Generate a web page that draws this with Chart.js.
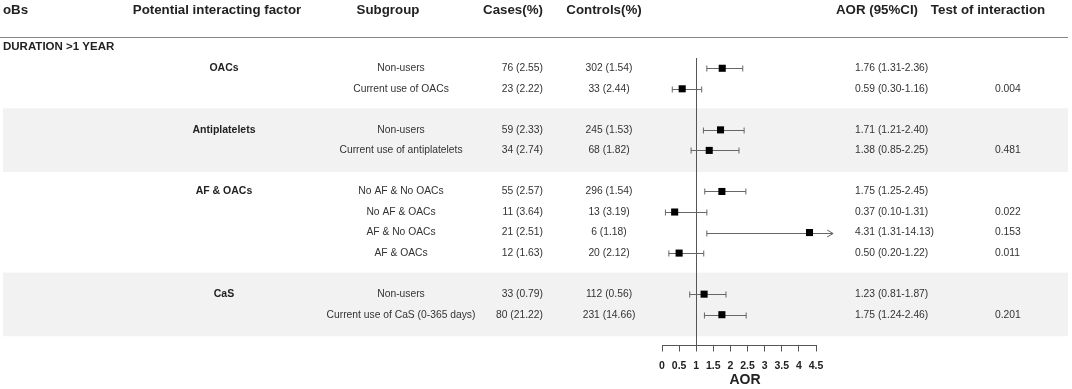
<!DOCTYPE html>
<html>
<head>
<meta charset="utf-8">
<script src="https://cdn.jsdelivr.net/npm/chart.js@4"></script>
<style>
  html, body { margin: 0; padding: 0; background: #fff; }
  canvas { display: block; }
</style>
</head>
<body>
<canvas id="forest" width="1072" height="389"></canvas>
<script>
// Datos de la tabla
const encabezados = ['oBs', 'Potential interacting factor', 'Subgroup', 'Cases(%)', 'Controls(%)', 'AOR (95%CI)', 'Test of interaction'];
const seccion = 'DURATION >1 YEAR';
const grupos = ['OACs', 'Antiplatelets', 'AF & OACs', 'CaS'];
const tamGrupo = [2, 2, 4, 2];
const subgrupos = ['Non-users', 'Current use of OACs', 'Non-users', 'Current use of antiplatelets',
  'No AF & No OACs', 'No AF & OACs', 'AF & No OACs', 'AF & OACs',
  'Non-users', 'Current use of CaS (0-365 days)'];
const casosN = [76, 23, 59, 34, 55, 11, 21, 12, 33, 80];
const casosPct = [2.55, 2.22, 2.33, 2.74, 2.57, 3.64, 2.51, 1.63, 0.79, 21.22];
const controlesN = [302, 33, 245, 68, 296, 13, 6, 20, 112, 231];
const controlesPct = [1.54, 2.44, 1.53, 1.82, 1.54, 3.19, 1.18, 2.12, 0.56, 14.66];
const aor = [1.76, 0.59, 1.71, 1.38, 1.75, 0.37, 4.31, 0.50, 1.23, 1.75];
const inferior = [1.31, 0.30, 1.21, 0.85, 1.25, 0.10, 1.31, 0.20, 0.81, 1.24];
const superior = [2.36, 1.16, 2.40, 2.25, 2.45, 1.31, 14.13, 1.22, 1.87, 2.46];
const interaccion = ['', '0.004', '', '0.481', '', '0.022', '0.153', '0.011', '', '0.201'];
const ticksAOR = [0, 0.5, 1, 1.5, 2, 2.5, 3, 3.5, 4, 4.5];
const tituloX = 'AOR';
const limiteX = 5; // los IC más largos se cortan con una flecha

// posición de cada fila (una fila vacía entre grupos)
const filas = [];
let pos = 0;
tamGrupo.forEach(n => {
  for (let k = 0; k < n; k++) filas.push(pos++);
  pos++;
});

const fuente = '"Liberation Sans", Arial, sans-serif';
const colorTexto = '#333';

const tabla = {
  id: 'tabla',
  beforeDraw(chart) {
    const { ctx, scales: { y } } = chart;
    ctx.save();
    // bandas grises de grupos alternos
    ctx.fillStyle = '#f2f2f2';
    let inicio = 0;
    tamGrupo.forEach((n, g) => {
      if (g % 2 === 1) {
        const top = y.getPixelForValue(filas[inicio] - 1.05);
        const bot = y.getPixelForValue(filas[inicio + n - 1] + 1.05);
        ctx.fillRect(3, top, 1065, bot - top);
      }
      inicio += n;
    });

    // encabezados
    ctx.fillStyle = '#222';
    ctx.textBaseline = 'middle';
    ctx.font = 'bold 13.3px ' + fuente;
    const colX = [3, 217, 388, 513, 604, 877, 988];
    encabezados.forEach((t, i) => {
      ctx.textAlign = i === 0 ? 'left' : 'center';
      ctx.fillText(t, colX[i], 10);
    });
    ctx.strokeStyle = '#888';
    ctx.lineWidth = 1;
    ctx.beginPath();
    ctx.moveTo(0, 37.5);
    ctx.lineTo(1068, 37.5);
    ctx.stroke();

    ctx.font = 'bold 11.5px ' + fuente;
    ctx.textAlign = 'left';
    ctx.fillText(seccion, 3, 47);

    // filas
    inicio = 0;
    tamGrupo.forEach((n, g) => {
      ctx.font = 'bold 10.5px ' + fuente;
      ctx.textAlign = 'center';
      ctx.fillStyle = '#222';
      ctx.fillText(grupos[g], 224, y.getPixelForValue(filas[inicio]));
      inicio += n;
    });
    ctx.font = '10.3px ' + fuente;
    ctx.fillStyle = colorTexto;
    filas.forEach((f, i) => {
      const py = y.getPixelForValue(f);
      ctx.textAlign = 'center';
      ctx.fillText(subgrupos[i], 401, py);
      ctx.textAlign = 'right';
      ctx.fillText(casosN[i] + ' (' + casosPct[i].toFixed(2) + ')', 543, py);
      ctx.textAlign = 'center';
      ctx.fillText(controlesN[i] + ' (' + controlesPct[i].toFixed(2) + ')', 609, py);
      ctx.textAlign = 'left';
      ctx.fillText(aor[i].toFixed(2) + ' (' + inferior[i].toFixed(2) + '-' + superior[i].toFixed(2) + ')', 855, py);
      ctx.fillText(interaccion[i], 995, py);
    });
    ctx.restore();
  },
  beforeDatasetsDraw(chart) {
    const { ctx, chartArea, scales: { x, y } } = chart;
    ctx.save();
    // línea de referencia en AOR = 1
    const x1px = Math.round(x.getPixelForValue(1)) + 0.5;
    ctx.strokeStyle = '#555';
    ctx.lineWidth = 1;
    ctx.beginPath();
    ctx.moveTo(x1px, chartArea.top);
    ctx.lineTo(x1px, chartArea.bottom);
    ctx.stroke();

    // intervalos de confianza
    ctx.strokeStyle = '#666';
    filas.forEach((f, i) => {
      const py = Math.round(y.getPixelForValue(f)) + 0.5;
      const a = x.getPixelForValue(inferior[i]);
      const cortado = superior[i] > limiteX;
      const b = x.getPixelForValue(Math.min(superior[i], limiteX));
      ctx.beginPath();
      ctx.moveTo(a, py); ctx.lineTo(b, py);
      ctx.moveTo(a, py - 3); ctx.lineTo(a, py + 3);
      if (cortado) {
        ctx.moveTo(b - 6, py - 3.5); ctx.lineTo(b, py); ctx.lineTo(b - 6, py + 3.5);
      } else {
        ctx.moveTo(b, py - 3); ctx.lineTo(b, py + 3);
      }
      ctx.stroke();
    });
    ctx.restore();
  },
  afterDraw(chart) {
    // título del eje x
    const { ctx } = chart;
    ctx.save();
    ctx.font = 'bold 14px ' + fuente;
    ctx.fillStyle = '#222';
    ctx.textAlign = 'center';
    ctx.textBaseline = 'middle';
    ctx.fillText(tituloX, 745, 380.5);
    ctx.restore();
  }
};

new Chart(document.getElementById('forest'), {
  type: 'scatter',
  data: {
    datasets: [{
      data: aor.map((v, i) => ({ x: v, y: filas[i] })),
      pointStyle: 'rect',
      pointRadius: 5,
      backgroundColor: '#000',
      borderColor: '#000',
      borderWidth: 0,
      clip: false
    }]
  },
  options: {
    responsive: false,
    animation: false,
    devicePixelRatio: 1,
    layout: { padding: { left: 662, right: 256, top: 58, bottom: 0 } },
    plugins: { legend: { display: false }, tooltip: { enabled: false } },
    scales: {
      x: {
        type: 'linear',
        min: 0,
        max: 4.5,
        afterBuildTicks: s => { s.ticks = ticksAOR.map(v => ({ value: v })); },
        afterFit: s => { s.height = 43.5; },
        grid: { display: true, drawOnChartArea: false, drawTicks: true, tickLength: 6, color: '#555' },
        border: { display: true, color: '#555' },
        ticks: {
          padding: 9,
          color: '#222',
          autoSkip: false,
          maxRotation: 0,
          callback: v => String(v),
          font: { family: fuente, size: 10.5, weight: 'bold', lineHeight: 1 }
        },
        title: { display: false }
      },
      y: {
        type: 'linear',
        display: false,
        reverse: true,
        min: -0.5,
        max: 13.5
      }
    }
  },
  plugins: [tabla]
});
</script>
</body>
</html>
